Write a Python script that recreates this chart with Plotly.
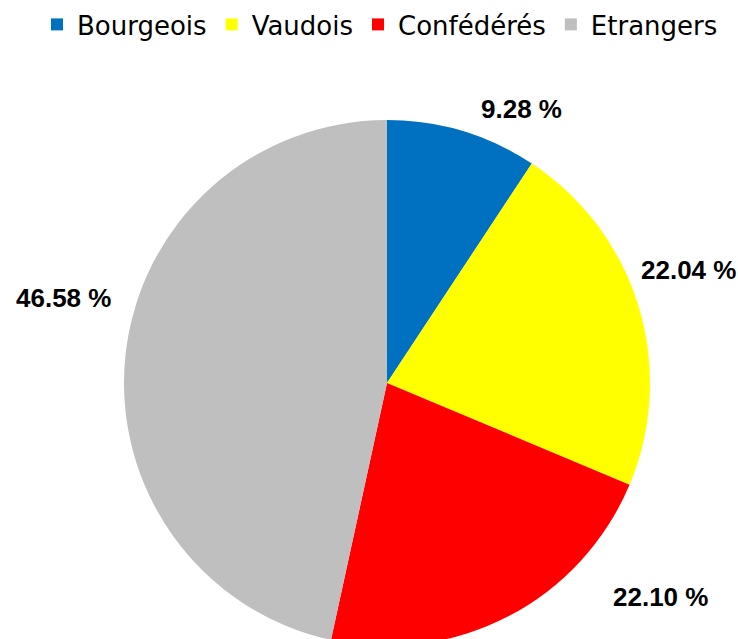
import plotly.graph_objects as go

categories = ["Bourgeois", "Vaudois", "Confédérés", "Etrangers"]
values = [9.28, 22.04, 22.10, 46.58]
colors = ["#0070C0", "#FFFF00", "#FF0000", "#BFBFBF"]

W, H = 738, 650

# label centres (pixels, from the reference)
label_px = [(521, 109), (688, 270), (660, 597), (63, 298)]

cx, cy, r = 387, 383, 263

fig = go.Figure(go.Pie(
    labels=categories,
    values=values,
    marker=dict(colors=colors, line=dict(width=0)),
    sort=False,
    direction="clockwise",
    rotation=0,
    textinfo="none",
    hoverinfo="label+percent",
    domain=dict(x=[(cx - r) / W, (cx + r) / W], y=[1 - (cy + r) / H, 1 - (cy - r) / H]),
))

for v, (px, py) in zip(values, label_px):
    fig.add_annotation(
        x=px / W, y=1 - py / H, xref="paper", yref="paper",
        text=f"<b>{v:.2f} %</b>", showarrow=False,
        font=dict(family="Liberation Sans, Arial, sans-serif", size=26, color="#000000"),
        xanchor="center", yanchor="middle",
    )

fig.update_layout(
    width=W, height=H,
    margin=dict(l=0, r=0, t=0, b=0, autoexpand=False),
    paper_bgcolor="white",
    plot_bgcolor="white",
    showlegend=True,
    legend=dict(
        orientation="h",
        x=37 / W, xanchor="left",
        y=1 - 1 / H, yanchor="top",
        font=dict(family="DejaVu Sans, sans-serif", size=26, color="#000000"),
        itemclick=False,
        traceorder="normal",
    ),
)

fig.write_html(
    "out.html",
    config={"displayModeBar": False},
    post_script="document.body.style.margin='0';document.body.style.overflow='hidden';",
)
